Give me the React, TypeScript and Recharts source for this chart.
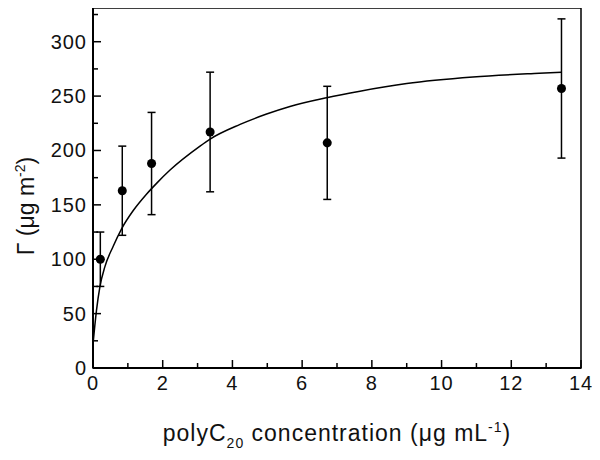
import React from 'react';
import { ComposedChart, Scatter, Line, XAxis, YAxis, ErrorBar, ReferenceArea, Label } from 'recharts';

// Measured points
const concentrations = [0.21, 0.84, 1.68, 3.36, 6.72, 13.44];
const gammaValues = [100, 163, 188, 217, 207, 257];
const gammaErrors = [25, 41, 47, 55, 52, 64];

// Fitted curve
const fitConcentrations = [0, 0.1, 0.2, 0.34, 0.58, 0.82, 1.16, 1.54, 1.83, 2.21, 3.07, 3.36, 4.22, 4.98, 5.65, 6.7, 7.66, 9.0, 10.9, 12.8, 13.44];
const fitValues = [22, 53, 75, 93, 112, 128, 145, 160, 170, 182, 204, 210.5, 224, 233.5, 240.5, 248.5, 254.5, 261.5, 267.5, 271, 272];

const xTicks = [0, 1, 2, 3, 4, 5, 6, 7, 8, 9, 10, 11, 12, 13, 14];
const yTicks = [0, 25, 50, 75, 100, 125, 150, 175, 200, 225, 250, 275, 300, 325];
const xMajorStep = 2;
const yMajorStep = 50;

const points = concentrations.map((c, i) => ({ x: c, y: gammaValues[i], err: gammaErrors[i] }));
const fit = fitConcentrations.map((c, i) => ({ x: c, y: fitValues[i] }));

const FONT = '"Liberation Sans", Arial, sans-serif';
const FS = 20;
const TITLE_FS = 23;

const XTick = (props: any) => {
  const { x, y, payload } = props;
  const v = payload.value;
  const major = v % xMajorStep === 0;
  return (
    <g>
      <line x1={x} x2={x} y1={y} y2={y - (major ? 8 : 5)} stroke="#000" strokeWidth={1.5} />
      {major && (
        <text x={x} y={y + 22} textAnchor="middle" fontFamily={FONT} fontSize={FS} letterSpacing={1} fill="#111">
          {v}
        </text>
      )}
    </g>
  );
};

const YTick = (props: any) => {
  const { x, y, payload } = props;
  const v = payload.value;
  const major = v % yMajorStep === 0;
  return (
    <g>
      <line x1={x} x2={x + (major ? 8 : 5)} y1={y} y2={y} stroke="#000" strokeWidth={1.5} />
      {major && (
        <text x={x - 6} y={y + 7} textAnchor="end" fontFamily={FONT} fontSize={FS} letterSpacing={1} fill="#111">
          {v}
        </text>
      )}
    </g>
  );
};

const XTitle = (props: any) => {
  const vb = props.viewBox || {};
  const cx = vb.x + vb.width / 2;
  const y = vb.y + 73;
  return (
    <text x={cx} y={y} textAnchor="middle" fontFamily={FONT} fontSize={TITLE_FS} letterSpacing={1} fill="#111">
      <tspan>polyC</tspan>
      <tspan fontSize={14} dy={7}>20</tspan>
      <tspan dy={-7}> concentration (μg mL</tspan>
      <tspan fontSize={14} dy={-9}>-1</tspan>
      <tspan dy={9}>)</tspan>
    </text>
  );
};

const YTitle = (props: any) => {
  const vb = props.viewBox || {};
  const x = 34;
  const cy = vb.y + vb.height / 2 + 18;
  return (
    <text x={x} y={cy} textAnchor="middle" fontFamily={FONT} fontSize={TITLE_FS} fill="#111" transform={`rotate(-90 ${x} ${cy})`}>
      <tspan>Γ (μg m</tspan>
      <tspan fontSize={14} dy={-9}>-2</tspan>
      <tspan dy={9}>)</tspan>
    </text>
  );
};

export default function App() {
  return (
    <div style={{ marginLeft: -8, marginTop: -8, width: 600, height: 460, background: '#fff' }}>
      <ComposedChart width={600} height={460} margin={{ top: 8, right: 19, bottom: 32, left: 33 }}>
        <XAxis
          type="number"
          dataKey="x"
          domain={[0, 14]}
          ticks={xTicks}
          interval={0}
          allowDataOverflow
          tickSize={0}
          tickMargin={0}
          tickLine={false}
          tick={<XTick />}
          axisLine={{ stroke: '#000', strokeWidth: 2 }}
          height={60}
        >
          <Label content={<XTitle />} />
        </XAxis>
        <YAxis
          type="number"
          dataKey="y"
          domain={[0, 331]}
          ticks={yTicks}
          interval={0}
          allowDataOverflow
          tickSize={0}
          tickMargin={0}
          tickLine={false}
          tick={<YTick />}
          axisLine={{ stroke: '#000', strokeWidth: 2 }}
          width={60}
        >
          <Label content={<YTitle />} />
        </YAxis>
        <ReferenceArea x1={0} x2={14} y1={0} y2={331} fill="none" stroke="#000" strokeWidth={1.5} ifOverflow="visible" />
        <Line
          data={fit}
          dataKey="y"
          type="monotone"
          dot={false}
          stroke="#000"
          strokeWidth={1.5}
          isAnimationActive={false}
        />
        <Scatter data={points} dataKey="y" fill="#000" shape="circle" isAnimationActive={false}>
          <ErrorBar dataKey="err" direction="y" width={4} stroke="#000" strokeWidth={1.5} />
        </Scatter>
      </ComposedChart>
    </div>
  );
}
